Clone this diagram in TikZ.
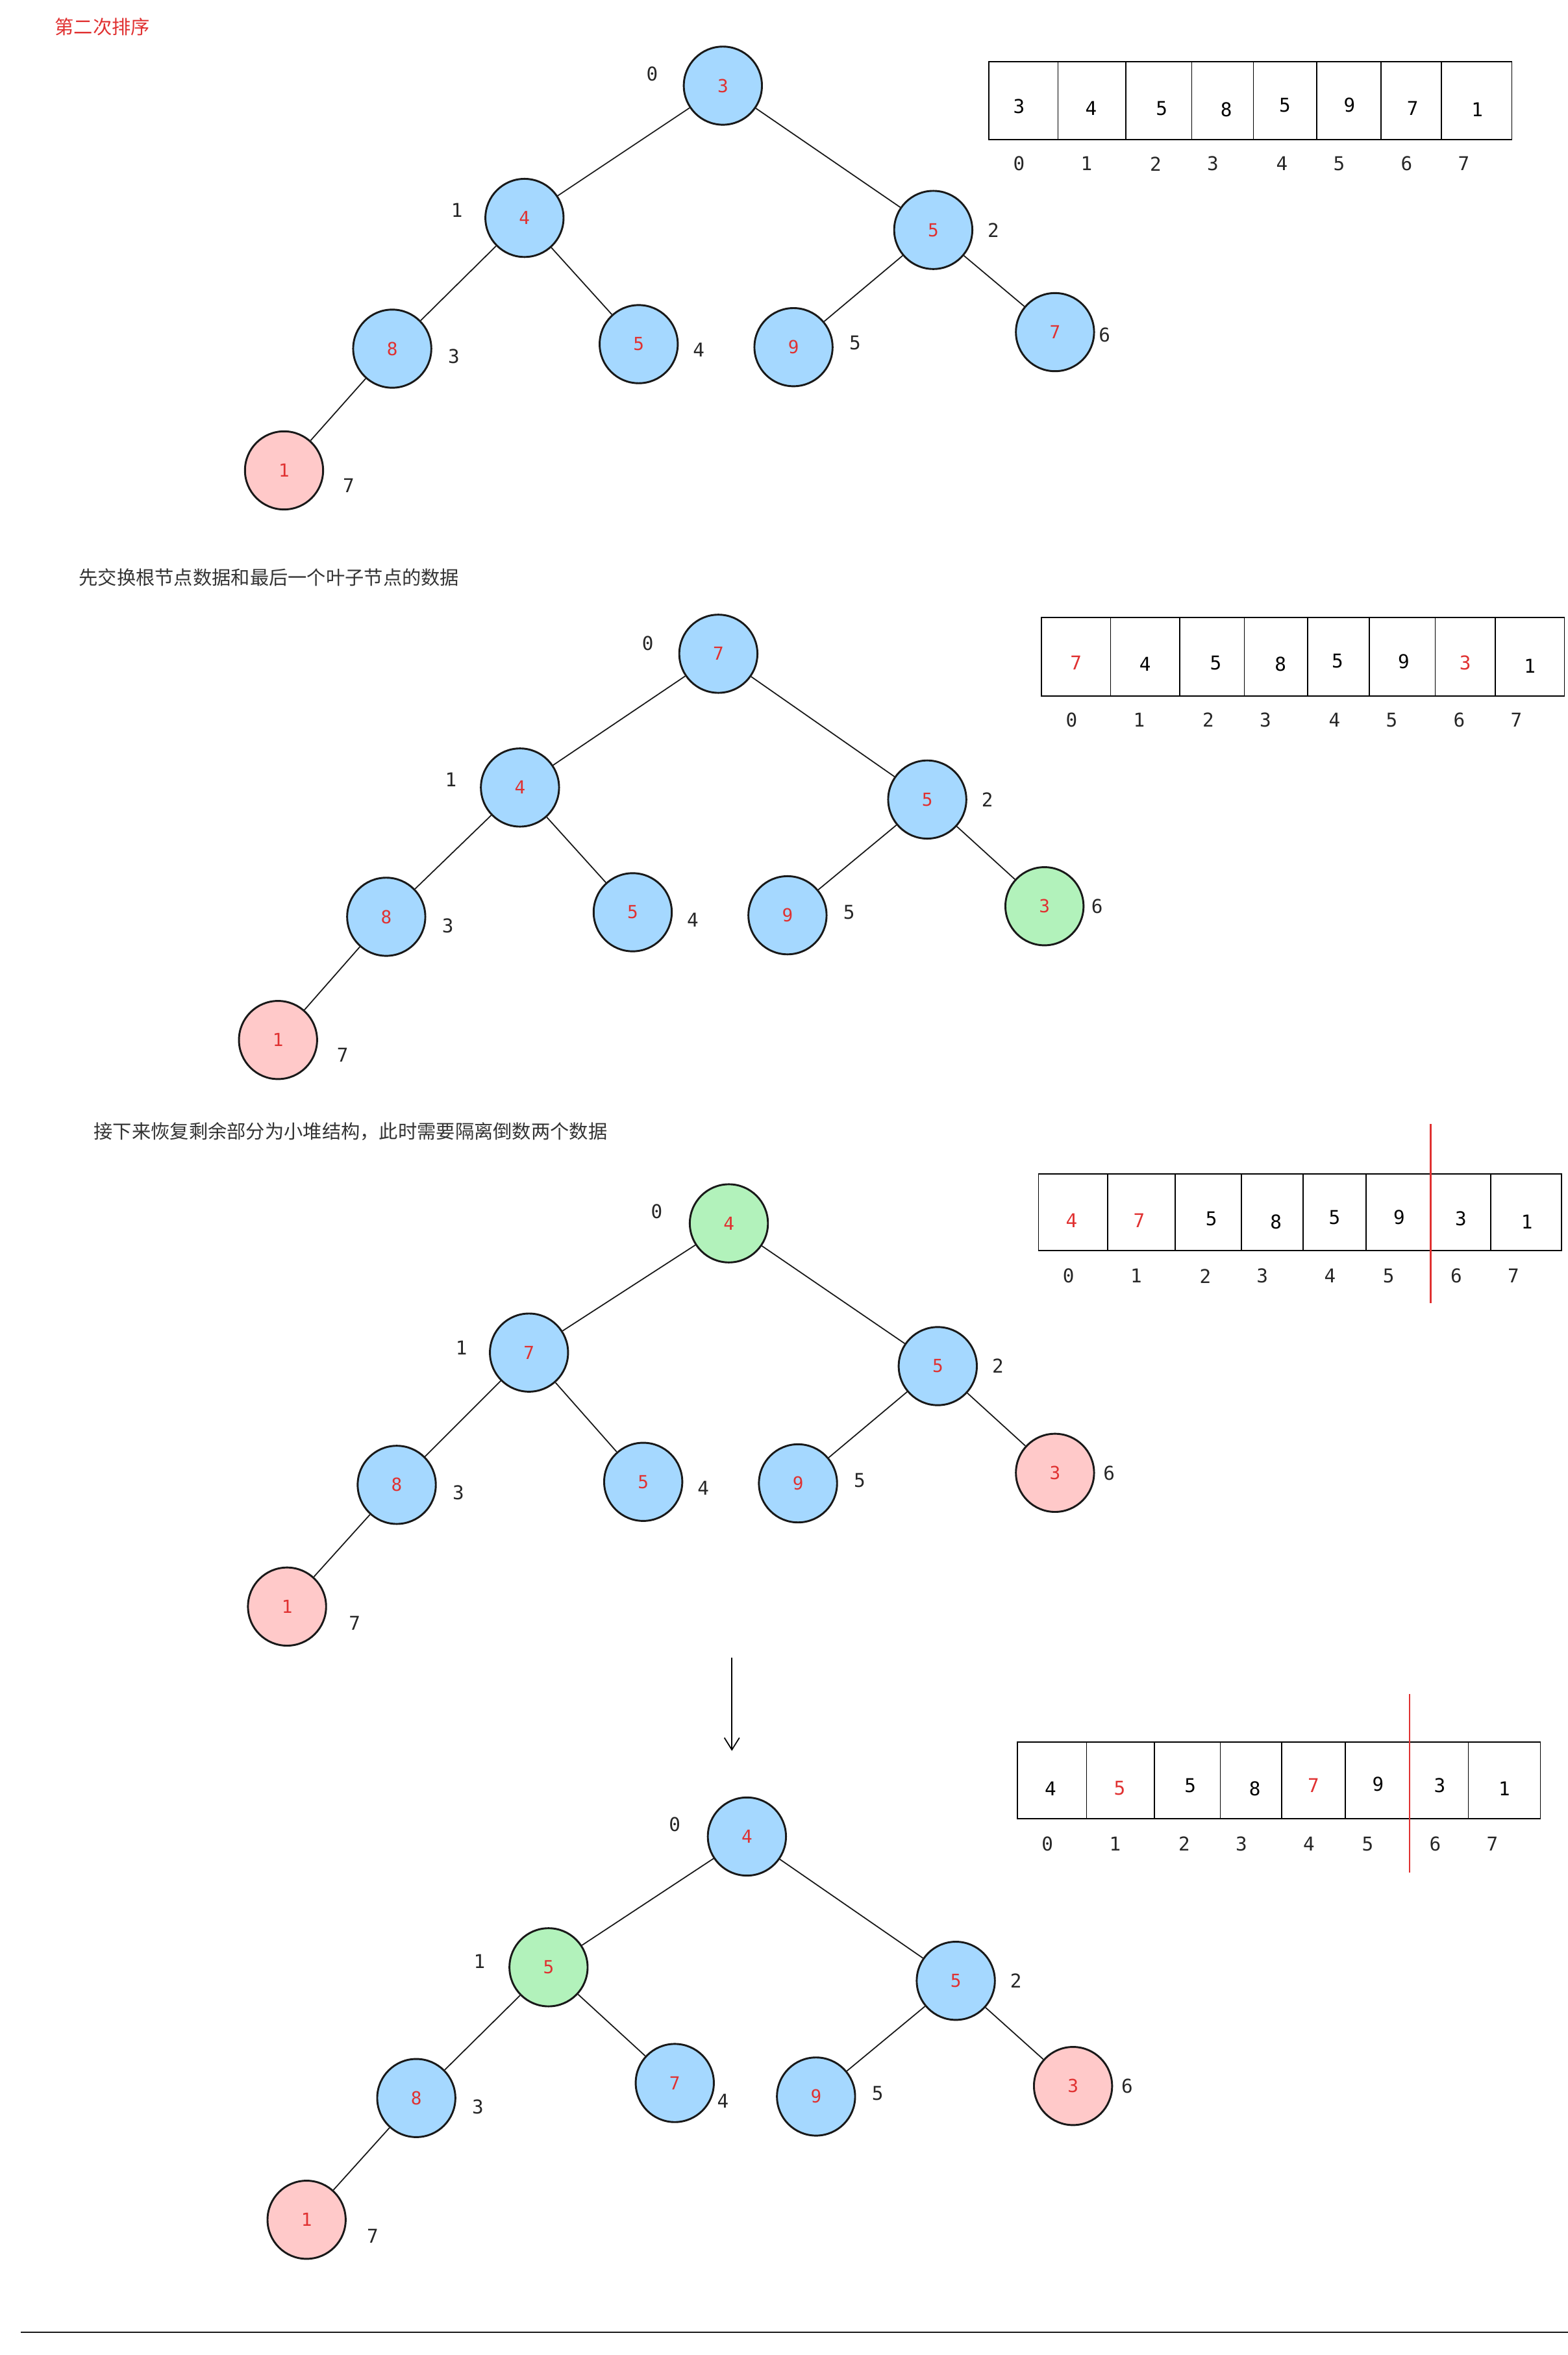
\documentclass[tikz,border=0pt]{standalone}
\usepackage{fontspec}
\setmainfont{DejaVu Sans Mono}
\newfontfamily\cjk{Noto Sans CJK SC}
\usetikzlibrary{arrows.meta}
\definecolor{heapblue}{HTML}{A5D8FF}
\definecolor{heappink}{HTML}{FFC9C9}
\definecolor{heapgreen}{HTML}{B2F2BB}
\definecolor{heapred}{HTML}{E03131}
\tikzset{
  heap/.style={circle,draw=black!90,line width=1.8pt,minimum size=26mm,inner sep=0pt,
               text=heapred,font=\fontsize{17}{17}\selectfont},
  idx/.style={font=\fontsize{18}{18}\selectfont,text=black!85},
  cell/.style={font=\fontsize{18}{18}\selectfont,text=black!85},
  note/.style={font=\cjk\fontsize{18}{18}\selectfont,text=black!80,anchor=west},
  link/.style={line width=1.1pt,black!90}
}
% one heap: positions "x/y/label-x/label-y", fills and values
\newcommand\heaptree[4]{%
  \foreach \nx/\ny/\lx/\ly [count=\i from 0] in {#2}{
    \pgfmathsetmacro\fillc{{#3}[\i]}
    \pgfmathsetmacro\val{{#4}[\i]}
    \node[heap,fill=\fillc] (#1\i) at (\nx,\ny) {\val};
    \node[idx] (#1l\i) at (\lx,\ly) {\i};
  }
  \draw[link] (#10) -- (#11) (#10) -- (#12) (#11) -- (#13) (#11) -- (#14)
              (#12) -- (#15) (#12) -- (#16) (#13) -- (#17);
}
% one array: corners, dividers, values, index positions, index row
\newcommand\heaparray[6]{%
  \draw[line width=1.1pt] (#1) rectangle (#2);
  \foreach \d in {#3} \draw[line width=1.1pt] (\d,\ya) -- (\d,\yb);
  \foreach \vx/\vy/\v/\c in {#4} \node[cell,text=\c] at (\vx,\vy) {\v};
  \foreach \ix [count=\i from 0] in {#5} \node[idx] at (\ix,#6) {\i};
}
\begin{document}
\begin{tikzpicture}[x=0.5mm,y=-0.5mm]
  \useasboundingbox (0,0) rectangle (1043,1567);

  \node[font=\cjk\fontsize{18}{18}\selectfont,text=heapred,anchor=west] (title) at (34,18) {第二次排序};

  % before swap
  \heaptree{a}{481/57/434/49, 349/145/304/140, 621/153/661/153, 261/232/302/237,
    425/229/465/233, 528/231/569/228, 702/221/735/223, 189/313/232/323}
    {"heapblue","heapblue","heapblue","heapblue","heapblue","heapblue","heapblue","heappink"}
    {"3","4","5","8","5","9","7","1"}
  \def\ya{41}\def\yb{93}
  \heaparray{658,41}{1006,93}{704,749,793,834,876,919,959}
    {678/71/3/black, 726/72/4/black, 773/72/5/black, 816/73/8/black,
     855/70/5/black, 898/70/9/black, 940/72/7/black, 983/73/1/black}
    {678,723,769,807,853,891,936,974}{109}

  \node[note] (swaptext) at (50,384) {先交换根节点数据和最后一个叶子节点的数据};

  % after swap
  \heaptree{b}{478/435/431/428, 346/524/300/519, 617/532/657/532, 257/610/298/616,
    421/607/461/612, 524/609/565/607, 695/603/730/603, 185/692/228/702}
    {"heapblue","heapblue","heapblue","heapblue","heapblue","heapblue","heapgreen","heappink"}
    {"7","4","5","8","5","9","3","1"}
  \def\ya{411}\def\yb{463}
  \heaparray{693,411}{1041,463}{739,785,828,870,911,955,995}
    {716/441/7/heapred, 762/442/4/black, 809/441/5/black, 852/442/8/black,
     890/440/5/black, 934/440/9/black, 975/441/3/heapred, 1018/443/1/black}
    {713,758,804,842,888,926,971,1009}{479}

  \node[note] (restoretext) at (60,753) {接下来恢复剩余部分为小堆结构，此时需要隔离倒数两个数据};

  % restore, step one
  \heaptree{c}{485/814/437/806, 352/900/307/897, 624/909/664/909, 264/988/305/993,
    428/986/468/990, 531/987/572/985, 702/980/738/980, 191/1069/236/1080}
    {"heapgreen","heapblue","heapblue","heapblue","heapblue","heapblue","heappink","heappink"}
    {"4","7","5","8","5","9","3","1"}
  \def\ya{781}\def\yb{832}
  \heaparray{691,781}{1039,832}{737,782,826,867,909,952,992}
    {713/812/4/heapred, 758/812/7/heapred, 806/811/5/black, 849/813/8/black,
     888/810/5/black, 931/810/9/black, 972/811/3/black, 1016/813/1/black}
    {711,756,802,840,885,924,969,1007}{849}
  \draw[heapred,line width=1.3pt] (952,748) -- (952,867);

  \coordinate (arrowtop) at (487,1103);
  \coordinate (arrowend) at (487,1165);
  \draw[line width=1.1pt,-{Straight Barb[length=4mm,width=5mm]}] (arrowtop) -- (arrowend);

  % restore, step two
  \heaptree{d}{497/1222/449/1214, 365/1309/319/1305, 636/1318/676/1318, 277/1396/318/1402,
    449/1386/481/1398, 543/1395/584/1393, 714/1388/750/1388, 204/1477/248/1488}
    {"heapblue","heapgreen","heapblue","heapblue","heapblue","heapblue","heappink","heappink"}
    {"4","5","5","8","7","9","3","1"}
  \def\ya{1159}\def\yb{1210}
  \heaparray{677,1159}{1025,1210}{723,768,812,853,895,938,977}
    {699/1190/4/black, 745/1190/5/heapred, 792/1188/5/black, 835/1190/8/black,
     874/1188/7/heapred, 917/1187/9/black, 958/1188/3/black, 1001/1190/1/black}
    {697,742,788,826,871,910,955,993}{1227}
  \draw[heapred,line width=1.3pt] (938,1127) -- (938,1246);

  \draw[line width=1.3pt,black!90] (14,1552) -- (1044,1552);
\end{tikzpicture}
\end{document}
